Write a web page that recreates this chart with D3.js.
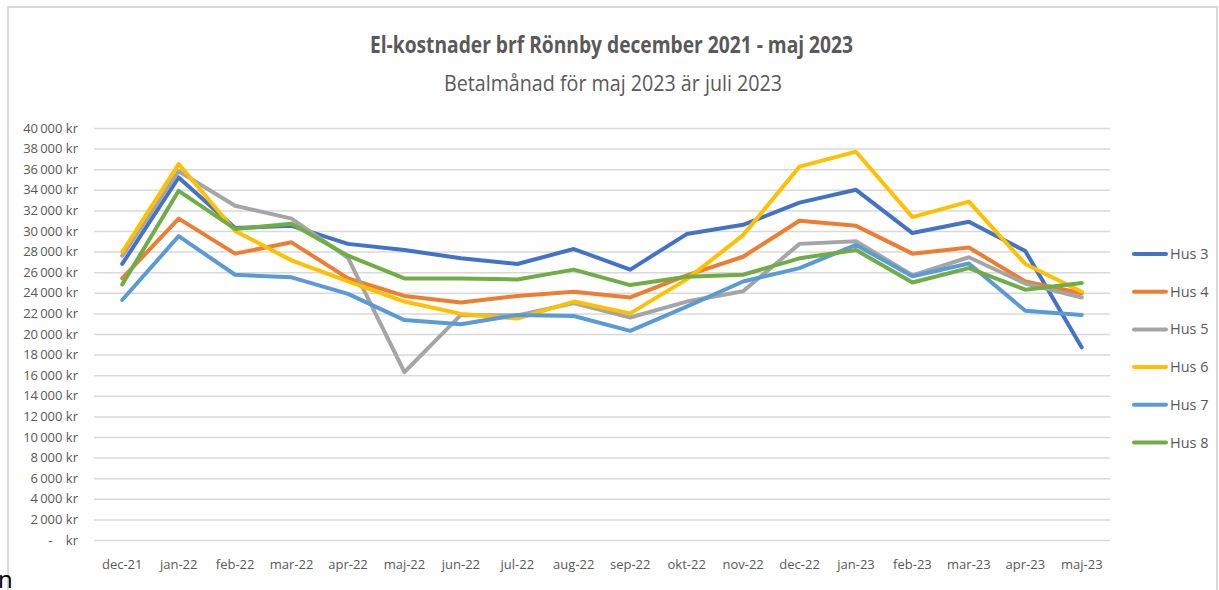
<!DOCTYPE html>
<meta charset="utf-8">
<style>
  body { margin: 0; background: #fff; }
  text { font-family: "Open Sans", "DejaVu Sans", sans-serif; fill: #595959; }
</style>
<body>
<script src="https://d3js.org/d3.v7.min.js"></script>
<svg></svg>
<script>
    var width = 1219;
    var height = 590;

    // months on the x axis
    var months = ["dec-21", "jan-22", "feb-22", "mar-22", "apr-22", "maj-22", "jun-22", "jul-22", "aug-22",
                  "sep-22", "okt-22", "nov-22", "dec-22", "jan-23", "feb-23", "mar-23", "apr-23", "maj-23"];

    // cost per month in kr
    var hus3 = [26800, 35200, 30300, 30500, 28750, 28150, 27350, 26800, 28250, 26250, 29700, 30600, 32750, 34000, 29800, 30900, 28050, 18700];
    var hus4 = [25400, 31200, 27800, 28900, 25400, 23700, 23050, 23700, 24100, 23550, 25700, 27500, 31000, 30500, 27800, 28400, 25100, 23950];
    var hus5 = [27600, 35800, 32450, 31200, 27400, 16300, 21850, 21800, 23000, 21600, 23150, 24150, 28750, 29000, 25700, 27450, 24900, 23550];
    var hus6 = [27950, 36500, 30000, 27150, 25100, 23150, 21950, 21500, 23150, 22000, 25300, 29600, 36250, 37700, 31350, 32850, 26800, 24100];
    var hus7 = [23300, 29500, 25750, 25500, 23900, 21350, 20950, 21850, 21750, 20300, 22650, 25100, 26400, 28650, 25600, 26850, 22250, 21850];
    var hus8 = [24800, 33900, 30200, 30700, 27600, 25400, 25400, 25300, 26250, 24750, 25550, 25750, 27350, 28150, 25000, 26400, 24300, 24950];

    var seriesNames = ["Hus 3", "Hus 4", "Hus 5", "Hus 6", "Hus 7", "Hus 8"];
    var seriesColors = ["#4472C4", "#ED7D31", "#A5A5A5", "#FFC000", "#5B9BD5", "#70AD47"];
    var yTicks = d3.range(0, 40001, 2000);

    var series = [hus3, hus4, hus5, hus6, hus7, hus8].map(function(vals, i) {
        return { name: seriesNames[i], color: seriesColors[i], values: vals };
    });

    var svg = d3.select("svg")
        .attr("width", width)
        .attr("height", height)
        .style("display", "block");

    // chart border (bottom edge is off the picture)
    svg.append("path")
        .attr("d", "M8,600 V7 H1217 V600")
        .attr("fill", "none")
        .attr("stroke", "#D9D9D9")
        .attr("stroke-width", 2);

    // stray glyph at bottom left of the screenshot
    svg.append("text").attr("x", -2).attr("y", 588)
        .style("fill", "#000").style("font-size", "24px").text("n");

    // titles
    svg.append("text")
        .attr("x", 370).attr("y", 53)
        .attr("textLength", 483).attr("lengthAdjust", "spacingAndGlyphs")
        .style("font-size", "23px").style("font-weight", "bold")
        .text("El-kostnader brf Rönnby december 2021 - maj 2023");
    svg.append("text")
        .attr("x", 444).attr("y", 91)
        .attr("textLength", 338).attr("lengthAdjust", "spacingAndGlyphs")
        .style("font-size", "21.5px")
        .text("Betalmånad för maj 2023 är juli 2023");

    var x = d3.scaleBand().domain(months).range([94, 1110]);
    var y = d3.scaleLinear().domain([0, 40000]).range([540, 128]);

    var locale = d3.formatLocale({ decimal: ",", thousands: "\u2009", grouping: [3], currency: ["", " kr"] });
    var fmt = locale.format(",");

    // gridlines + y labels
    var yAxis = d3.axisLeft(y).tickValues(yTicks)
        .tickSize(-(1110 - 94))
        .tickPadding(16)
        .tickFormat(function(d) { return d === 0 ? "-    kr" : fmt(d) + " kr"; });
    var gy = svg.append("g").attr("transform", "translate(94,0)").call(yAxis);
    gy.select(".domain").remove();
    gy.selectAll(".tick line").attr("stroke", "#D9D9D9").attr("stroke-width", 1.5);
    gy.selectAll(".tick text")
        .attr("fill", "#595959").style("font-size", "13px")
        .style("white-space", "pre");

    // x labels
    var xAxis = d3.axisBottom(x).tickSize(0).tickPadding(20);
    var gx = svg.append("g").attr("transform", "translate(0,540)").call(xAxis);
    gx.select(".domain").remove();
    gx.selectAll(".tick text").attr("fill", "#595959").style("font-size", "13px");

    // lines
    var line = d3.line()
        .x(function(d, i) { return x(months[i]) + x.bandwidth() / 2; })
        .y(function(d) { return y(d); });

    svg.selectAll(".serie")
        .data(series)
        .enter().append("path")
        .attr("class", "serie")
        .attr("d", function(d) { return line(d.values); })
        .attr("fill", "none")
        .attr("stroke", function(d) { return d.color; })
        .attr("stroke-width", 4)
        .attr("stroke-linejoin", "round")
        .attr("stroke-linecap", "round");

    // legend
    var legend = svg.selectAll(".legend")
        .data(series)
        .enter().append("g")
        .attr("class", "legend")
        .attr("transform", function(d, i) { return "translate(1134," + (254 + i * 37.7) + ")"; });
    legend.append("line")
        .attr("x1", 0).attr("x2", 32)
        .attr("stroke", function(d) { return d.color; })
        .attr("stroke-width", 4)
        .attr("stroke-linecap", "round");
    legend.append("text")
        .attr("x", 36).attr("dy", "0.35em")
        .style("font-size", "14.5px")
        .text(function(d) { return d.name; });
</script>
